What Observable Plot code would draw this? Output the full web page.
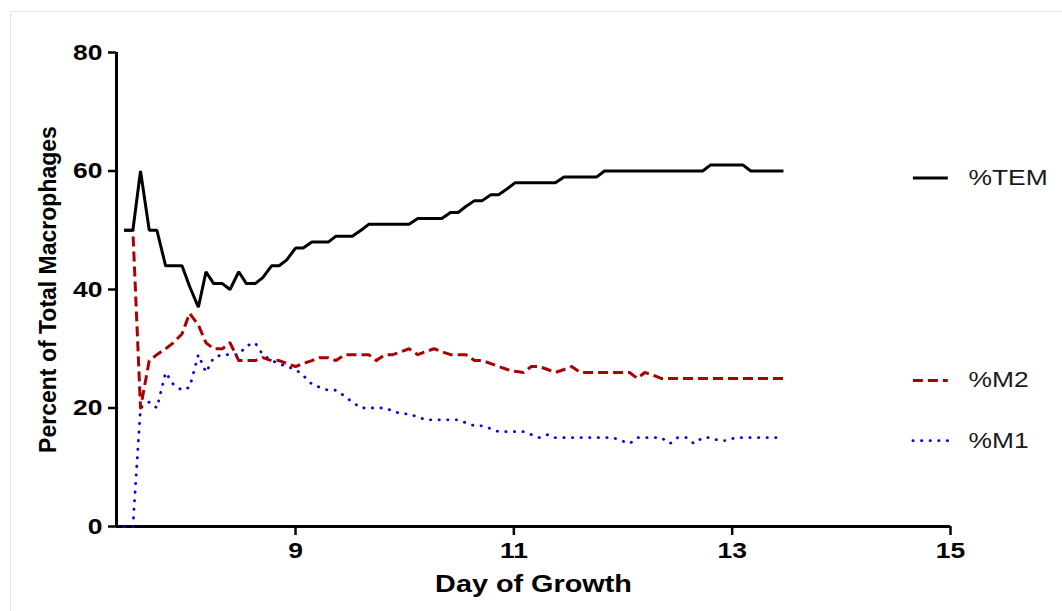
<!DOCTYPE html>
<html><head><meta charset="utf-8">
<script src="https://cdn.jsdelivr.net/npm/d3@7"></script>
<script src="https://cdn.jsdelivr.net/npm/@observablehq/plot@0.6"></script>
<style>
html,body{margin:0;padding:0;background:#fff;}
#wrap{position:relative;width:1062px;height:611px;overflow:hidden;background:#fff;}
#frame{position:absolute;left:10px;top:11px;width:1100px;height:700px;border-left:1px solid #e3e3e3;border-top:1px solid #e3e3e3;}
#chart{position:absolute;left:0;top:0;}
</style></head><body><div id="wrap"><div id="frame"></div><div id="chart"></div></div>
<script>
// Day of growth for each sample
const days = [7.43,7.51,7.58,7.66,7.73,7.81,7.88,7.96,8.03,8.11,
  8.18,8.25,8.33,8.40,8.48,8.55,8.63,8.70,8.78,8.85,
  8.92,9.00,9.07,9.15,9.22,9.30,9.37,9.45,9.52,9.60,
  9.67,9.74,9.82,9.89,9.97,10.04,10.12,10.19,10.27,10.34,
  10.42,10.49,10.56,10.64,10.71,10.79,10.86,10.94,11.01,11.09,
  11.16,11.23,11.31,11.38,11.46,11.53,11.61,11.68,11.76,11.83,
  11.91,11.98,12.06,12.13,12.20,12.28,12.35,12.43,12.50,12.58,
  12.65,12.73,12.80,12.88,12.95,13.03,13.10,13.17,13.25,13.32,
  13.40,13.47];
// %TEM
const tem = [50,50,60,50,50,44,44,44,40.5,37,
  43,41,41,40,43,41,41,42,44,44,
  45,47,47,48,48,48,49,49,49,50,
  51,51,51,51,51,51,52,52,52,52,
  53,53,54,55,55,56,56,57,58,58,
  58,58,58,58,59,59,59,59,59,60,
  60,60,60,60,60,60,60,60,60,60,
  60,60,61,61,61,61,61,60,60,60,
  60,60];
// %M2
const m2 = [50,50,20,28,29,30,31,32.5,36,34,
  31,30,30,31,28,28,28,28.5,28,28,
  27.5,27,27.5,28,28.5,28.5,28,29,29,29,
  29,28,29,29,29.5,30,29,29.5,30,29.5,
  29,29,29,28,28,27.5,27,26.5,26.2,26,
  27,27,26.5,26,26.5,27,26,26,26,26,
  26,26,26,25,26,25.5,25,25,25,25,
  25,25,25,25,25,25,25,25,25,25,
  25,25];
// %M1
const m1 = [0,0,20,21,20,26,24,23,23.5,29,
  26,28.5,29,29,29,30.5,31,29,28,27.5,
  27,26.5,25.5,24,23.5,23,23,22,21,20,
  20,20,20,19.5,19,19,18.5,18,18,18,
  18,18,17.5,17,17,16.5,16,16,16,16,
  15.5,15,15.5,15,15,15,15,15,15,15,
  15,14.5,14,15,15,15,15,14,15,15,
  14,15,15,14.5,14.5,15,15,15,15,15,
  15,15];

const seriesNames = ["%TEM", "%M2", "%M1"];
const seriesColors = ["#000000", "#aa0000", "#0000ee"];
const xTicks = [9, 11, 13, 15];
const yTicks = [0, 20, 40, 60, 80];
const xDomain = [7.36, 15];
const yDomain = [0, 80];
const xTitle = "Day of Growth";
const yTitle = "Percent of Total Macrophages";

const seriesValues = [tem, m2, m1];
const seriesRows = seriesValues.map(vals => vals.map((v, i) => ({day: days[i], value: v})));
const legend = seriesNames.map((name, k) => ({name, level: seriesValues[k][seriesValues[k].length - 1]}));
const legendSpan = [14.66, 14.98];
const legendShift = [7, 2, 3];

const styles = [
  {stroke: seriesColors[0], strokeWidth: 3, strokeLinejoin: "miter", strokeLinecap: "butt"},
  {stroke: seriesColors[1], strokeWidth: 3, strokeDasharray: "10,5", strokeLinecap: "butt", strokeLinejoin: "round"},
  {stroke: seriesColors[2], strokeWidth: 2.8, strokeDasharray: "0.3,8.3", strokeLinecap: "round"}
];

const chart = Plot.plot({
  width: 1062, height: 611,
  marginLeft: 116, marginRight: 112, marginTop: 52, marginBottom: 85,
  x: {domain: xDomain},
  y: {domain: yDomain},
  style: {fontFamily: "'Liberation Sans', Arial, sans-serif", background: "transparent", overflow: "visible", color: "#000"},
  marks: [
    Plot.axisX({ticks: xTicks, tickSize: 9, tickPadding: 7, strokeWidth: 2.5, fontSize: 22, fontWeight: "bold", label: null}),
    Plot.axisY({ticks: yTicks, tickSize: 8, tickPadding: 6, strokeWidth: 2.5, fontSize: 22, fontWeight: "bold", label: null}),
    Plot.ruleX([xDomain[0]], {y1: yDomain[0], y2: yDomain[1], strokeWidth: 3}),
    Plot.ruleY([yDomain[0]], {strokeWidth: 3}),
    Plot.line(seriesRows[2], {x: "day", y: "value", ...styles[2]}),
    Plot.line(seriesRows[1], {x: "day", y: "value", ...styles[1]}),
    Plot.line(seriesRows[0], {x: "day", y: "value", ...styles[0]}),
    ...legend.map((d, k) => Plot.ruleY([d], {y: "level", x1: legendSpan[0], x2: legendSpan[1], dy: legendShift[k], ...styles[k]})),
    ...legend.map((d, k) => Plot.text([d], {y: "level", text: "name", frameAnchor: "right", dx: 18, dy: legendShift[k], textAnchor: "start", lineAnchor: "middle", fontSize: 22, fill: "#1a1a1a"})),
    Plot.text([xTitle], {frameAnchor: "bottom", dy: 58, lineAnchor: "middle", textAnchor: "middle", fontSize: 24, fontWeight: "bold"}),
    Plot.text([yTitle], {frameAnchor: "left", rotate: -90, dx: -68, textAnchor: "middle", lineAnchor: "middle", fontSize: 23, fontWeight: "bold"})
  ]
});
document.getElementById("chart").appendChild(chart);

// The reference type is set a little wider than the installed fonts: widen horizontal labels.
const widen = 1.2;
chart.querySelectorAll("text").forEach(t => {
  if (t.textContent === yTitle) return;
  const len = t.getComputedTextLength();
  if (len > 0) {
    t.setAttribute("textLength", (len * widen).toFixed(1));
    t.setAttribute("lengthAdjust", "spacingAndGlyphs");
  }
});
</script>
</body></html>
